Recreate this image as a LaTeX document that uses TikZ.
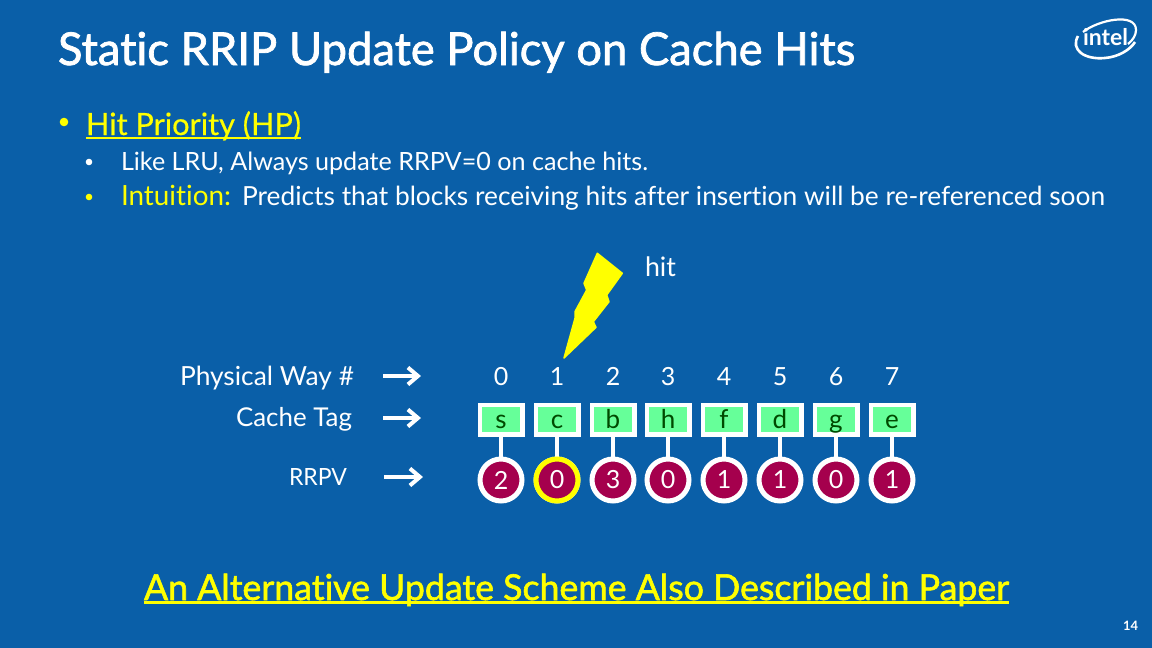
\documentclass[tikz,border=0pt]{standalone}
\usepackage{fontspec}
\usepackage{graphicx}
\setmainfont[Ligatures=NoCommon]{Lato}
\newfontfamily\heavy[Ligatures=NoCommon,FakeBold=1.6]{Lato}
\newfontfamily\mediumf[Ligatures=NoCommon,FakeBold=0.5]{Lato}
\usetikzlibrary{arrows.meta}
\definecolor{bg}{HTML}{0A5FA8}
\definecolor{hl}{HTML}{FFFF00}
\definecolor{tagfill}{HTML}{66FF99}
\definecolor{tagtext}{HTML}{004A00}
\definecolor{rrpvfill}{HTML}{A5004D}
\tikzset{
 txt/.style={inner sep=0pt,outer sep=0pt,anchor=base west,text=white},
 rtxt/.style={inner sep=0pt,outer sep=0pt,anchor=base,text=white,font=\fontsize{25}{25}\selectfont},
 tagbox/.style={draw=white,line width=4.5pt,fill=tagfill,minimum width=42.5pt,minimum height=29.5pt,inner sep=0pt,text=tagtext,text height=17pt,text depth=0pt,font=\fontsize{26}{26}\selectfont},
 rrpv/.style={circle,draw=white,line width=5pt,fill=rrpvfill,minimum size=42pt,inner sep=0pt,text=white,font=\fontsize{25}{25}\selectfont},
 link/.style={draw=white,line width=4pt},
 bigarrow/.style={draw=white,line width=4pt,-{Straight Barb[length=10pt,width=17pt,line width=4pt]}},
}
\begin{document}
\begin{tikzpicture}[x=1pt,y=-1pt]
\useasboundingbox (0,0) rectangle (1152,648);
\fill[bg] (0,0) rectangle (1152,648);
% title
\node[txt] (title) at (58,65) {\resizebox{797pt}{!}{\fontsize{38}{38}\selectfont\heavy Static RRIP Update Policy on Cache Hits}};
% logo
\draw[white,line width=2.2pt] (1083,32) .. controls (1098,20) and (1136,12) .. (1136,30) .. controls (1136,35) and (1133,40) .. (1128,44);
\draw[white,line width=2.6pt] (1078,36) .. controls (1070,50) and (1085,60) .. (1105,58) .. controls (1118,57) and (1130,50) .. (1135,42);
\node[txt,font=\bfseries] (logo) at (1083,45) {\resizebox{45pt}{!}{\fontsize{24}{24}\selectfont intel}};
% bullets
\fill[hl] (64,122) circle (4.3pt);
\fill[white] (89,162) circle (3.3pt);
\fill[hl] (89,197) circle (3.3pt);
\node[txt,text=hl] (hp) at (86,135) {\resizebox{215pt}{!}{\fontsize{26}{26}\selectfont\mediumf Hit Priority (HP)}};
\draw[hl,line width=2.4pt] (86,138) -- (301,138);
\node[txt] (l1) at (121,170) {\resizebox{527pt}{!}{\fontsize{24}{24}\selectfont Like LRU, Always update RRPV=0 on cache hits.}};
\node[txt,text=hl] (l2a) at (121,205.5) {\resizebox{110pt}{!}{\fontsize{24}{24}\selectfont Intuition:}};
\node[txt] (l2b) at (242,205.5) {\resizebox{863pt}{!}{\fontsize{24}{24}\selectfont Predicts that blocks receiving hits after insertion will be re-referenced soon}};
% lightning
\fill[hl,draw=hl,line width=1.5pt,line join=round] (597.3,253.3) -- (622.3,273.3) -- (606.7,295) -- (609,301.7) -- (593.3,321.7) -- (596,327.3) -- (564,358) -- (575,318.3) -- (575,311.7) -- (586.7,290) -- (584,283.3) -- cycle;
\node[txt] (hit) at (645,276) {\resizebox{31pt}{!}{\fontsize{24}{24}\selectfont hit}};
% row labels
\node[txt] (lw) at (180,385.5) {\resizebox{174pt}{!}{\fontsize{24}{24}\selectfont Physical Way \#}};
\node[txt] (lc) at (236,426) {\resizebox{116pt}{!}{\fontsize{24}{24}\selectfont Cache Tag}};
\node[txt] (lr) at (289,485) {\resizebox{58pt}{17pt}{\fontsize{24}{24}\selectfont RRPV}};
\coordinate (a1s) at (383,376); \coordinate (a1e) at (421,376);
\coordinate (a2s) at (383,418); \coordinate (a2e) at (421,418);
\coordinate (a3s) at (384,477); \coordinate (a3e) at (423,477);
\draw[bigarrow] (a1s) -- (a1e);
\draw[bigarrow] (a2s) -- (a2e);
\draw[bigarrow] (a3s) -- (a3e);
% columns
\foreach \n/\x/\t/\r in {0/501/s/2,1/557/c/0,2/613/b/3,3/668/h/0,4/724/f/1,5/780/d/1,6/836/g/0,7/892/e/1}{
  \node[rtxt] (way\n) at (\x,385) {\n};
  \node[tagbox] (tag\n) at (\x,419.5) {\t};
  \node[rrpv] (rr\n) at (\x,480) {\r};
  \draw[link] (tag\n) -- (rr\n);
}
\node[rrpv,draw=hl] (rrhit) at (rr1) {0};
% bottom
\node[txt,text=hl] (bot) at (144,600) {\resizebox{865pt}{!}{\fontsize{30}{30}\selectfont\heavy An Alternative Update Scheme Also Described in Paper}};
\draw[hl,line width=2.4pt] (144,602.5) -- (1009,602.5);
\node[txt,font=\bfseries] (pg) at (1123,630) {\resizebox{15pt}{!}{\fontsize{11}{11}\selectfont 14}};
\end{tikzpicture}
\end{document}
